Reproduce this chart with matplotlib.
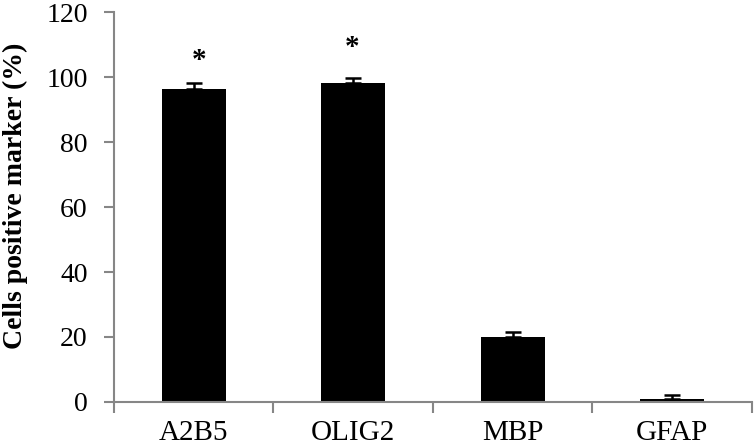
import matplotlib
matplotlib.use("Agg")
import matplotlib.pyplot as plt
import numpy as np

categories = ["A2B5", "OLIG2", "MBP", "GFAP"]
values = [96.2, 98.3, 20.0, 1.0]
errors = [1.9, 1.4, 1.5, 1.2]
stars = ["*", "*", "", ""]
star_heights = [105, 109, 0, 0]
yticks = [0, 20, 40, 60, 80, 100, 120]

plt.rcParams['font.family'] = ['Liberation Serif', 'DejaVu Serif']

fig = plt.figure(figsize=(7.54, 4.46), dpi=100)
ax = fig.add_axes([0.1512, 0.0987, 0.8461, 0.8743])

x = np.arange(len(categories))
ax.bar(x, values, width=0.4, color="black", zorder=2)
ax.errorbar(x, values, yerr=[np.zeros(len(values)), errors], fmt="none",
            ecolor="black", elinewidth=1.8, capsize=5.8, capthick=1.8, zorder=3)

star_dx = [0.035, -0.01, 0, 0]
for xi, s, sy, dx in zip(x, stars, star_heights, star_dx):
    if s:
        ax.text(xi + dx, sy, s, ha="center", va="center", fontsize=21, fontweight="bold")

ax.set_xlim(-0.5, len(categories) - 0.5)
ax.set_ylim(0, 120)
ax.set_yticks(yticks)
ax.set_yticklabels([str(t) for t in yticks], fontsize=20)

ax.set_xticks(x)
ax.set_xticklabels(categories, fontsize=21)
ax.tick_params(axis="x", length=0, pad=13)
ax.set_xticks(np.arange(len(categories) + 1) - 0.5, minor=True)
ax.tick_params(axis="x", which="minor", length=8, width=1.5, color="#868686", direction="out")
ax.tick_params(axis="y", length=7, width=1.5, color="#868686", direction="out", pad=12)

for side in ["top", "right"]:
    ax.spines[side].set_visible(False)
for side in ["left", "bottom"]:
    ax.spines[side].set_color("#868686")
    ax.spines[side].set_linewidth(1.5)

ax.set_ylabel("Cells positive marker (%)", fontsize=20, fontweight="bold")
ax.yaxis.set_label_coords(-0.135, 0.528)

fig.savefig("out.png", dpi=100)
